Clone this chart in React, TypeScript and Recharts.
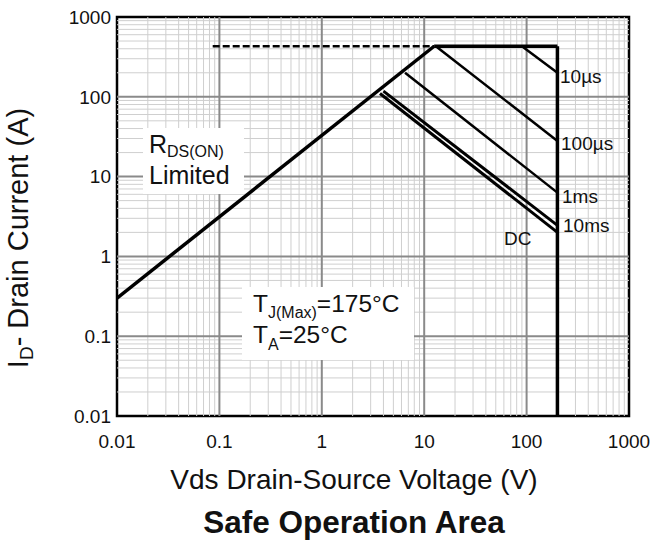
import React from 'react';
import { ComposedChart, Line, XAxis, YAxis, ReferenceLine, ReferenceArea } from 'recharts';

// axis decades and tick labels
const decades = [0.01, 0.1, 1, 10, 100, 1000];
const tickLabels = ['0.01', '0.1', '1', '10', '100', '1000'];
const minorSteps = [2, 3, 4, 5, 6, 7, 8, 9];

// SOA boundary segments (Vds in V, Id in A)
const rdsLimit = [{ v: 0.01, i: 0.3 }, { v: 12.5, i: 430 }];
const currentLimitDashed = [{ v: 0.086, i: 430 }, { v: 12.5, i: 430 }];
const currentLimit = [{ v: 12.5, i: 430 }, { v: 200, i: 430 }];
const voltageLimit = [{ v: 200, i: 430 }, { v: 200, i: 0.01 }];
const pulse10us = [{ v: 90, i: 430 }, { v: 200, i: 200 }];
const pulse100us = [{ v: 13, i: 430 }, { v: 200, i: 28 }];
const pulse1ms = [{ v: 6.5, i: 200 }, { v: 200, i: 6.3 }];
const pulse10ms = [{ v: 4.0, i: 118 }, { v: 200, i: 2.45 }];
const dcLine = [{ v: 3.7, i: 110 }, { v: 200, i: 2.0 }];

const minorGrid = decades.slice(0, -1).flatMap(d => minorSteps.map(k => d * k));
const innerDecades = decades.slice(1, -1);

const font = '"Liberation Sans", Arial, sans-serif';

const App: React.FC = () => {
  const lineProps = {
    type: 'linear' as const,
    dataKey: 'i',
    stroke: '#000',
    dot: false,
    activeDot: false,
    isAnimationActive: false,
    legendType: 'none' as const,
  };

  return (
    <div style={{ position: 'absolute', left: 0, top: 0, width: 650, height: 541, background: '#fff', fontFamily: font }}>
      <ComposedChart width={650} height={541} margin={{ top: 17, right: 21, left: 0, bottom: 85 }}>
        <XAxis
          dataKey="v"
          type="number"
          scale="log"
          domain={[0.01, 1000]}
          ticks={decades}
          tickFormatter={(val: number) => tickLabels[decades.indexOf(val)] ?? String(val)}
          allowDataOverflow
          axisLine={false}
          tickLine={false}
          tickSize={8}
          tickMargin={11}
          height={40}
          tick={{ fill: '#111', fontSize: 19, fontFamily: font }}
        />
        <YAxis
          type="number"
          scale="log"
          domain={[0.01, 1000]}
          ticks={decades}
          tickFormatter={(val: number) => tickLabels[decades.indexOf(val)] ?? String(val)}
          allowDataOverflow
          axisLine={false}
          tickLine={false}
          tickSize={4}
          tickMargin={2}
          width={117}
          tick={{ fill: '#111', fontSize: 19, fontFamily: font }}
        />
        {minorGrid.map(g => (
          <ReferenceLine key={`mx${g}`} x={g} stroke="#cfcfcf" strokeWidth={1} />
        ))}
        {minorGrid.map(g => (
          <ReferenceLine key={`my${g}`} y={g} stroke="#cfcfcf" strokeWidth={1} />
        ))}
        {innerDecades.map(g => (
          <ReferenceLine key={`dx${g}`} x={g} stroke="#8a8a8a" strokeWidth={2} />
        ))}
        {innerDecades.map(g => (
          <ReferenceLine key={`dy${g}`} y={g} stroke="#8a8a8a" strokeWidth={2} />
        ))}
        <Line {...lineProps} data={currentLimitDashed} strokeWidth={2.5} strokeDasharray="7 3" />
        <Line {...lineProps} data={rdsLimit} strokeWidth={3.5} />
        <Line {...lineProps} data={currentLimit} strokeWidth={3.5} />
        <Line {...lineProps} data={voltageLimit} strokeWidth={3.5} />
        <Line {...lineProps} data={pulse10us} strokeWidth={2.5} />
        <Line {...lineProps} data={pulse100us} strokeWidth={2.5} />
        <Line {...lineProps} data={pulse1ms} strokeWidth={2.5} />
        <Line {...lineProps} data={pulse10ms} strokeWidth={3} />
        <Line {...lineProps} data={dcLine} strokeWidth={3} />
        <ReferenceArea x1={0.01} x2={1000} y1={0.01} y2={1000} fill="none" stroke="#000" strokeWidth={2.5} />
      </ComposedChart>

      <svg width={650} height={541} style={{ position: 'absolute', left: 0, top: 0, pointerEvents: 'none' }}>
        <g fontFamily={font} fill="#111">
          {/* annotation boxes */}
          <rect x={143} y={128} width={101} height={66} fill="#fff" />
          <text x={149} y={153} fontSize={25}>
            R<tspan fontSize={16} y={157}>DS(ON)</tspan>
          </text>
          <text x={149} y={184} fontSize={25}>Limited</text>

          <rect x={242} y={287} width={172} height={73} fill="#fff" />
          <text x={253} y={312} fontSize={24.5}>
            T<tspan fontSize={16} y={318}>J(Max)</tspan>
            <tspan y={312}>=175°C</tspan>
          </text>
          <text x={253} y={343} fontSize={24.5}>
            T<tspan fontSize={16} y={350}>A</tspan>
            <tspan y={343}>=25°C</tspan>
          </text>

          {/* curve labels */}
          <text x={560} y={83} fontSize={19}>10µs</text>
          <text x={561} y={150} fontSize={19}>100µs</text>
          <text x={562} y={203} fontSize={19}>1ms</text>
          <text x={563} y={232} fontSize={19}>10ms</text>
          <text x={504} y={245} fontSize={19}>DC</text>

          {/* axis titles */}
          <text transform="translate(28,238) rotate(-90)" textAnchor="middle" fontSize={29}>
            I<tspan fontSize={19} dy={5}>D</tspan>
            <tspan dy={-5}>- Drain Current (A)</tspan>
          </text>
          <text x={354} y={489} textAnchor="middle" fontSize={28}>Vds Drain-Source Voltage (V)</text>
          <text x={354} y={533} textAnchor="middle" fontSize={31.5} fontWeight="bold">Safe Operation Area</text>
        </g>
      </svg>
    </div>
  );
};

export default App;
